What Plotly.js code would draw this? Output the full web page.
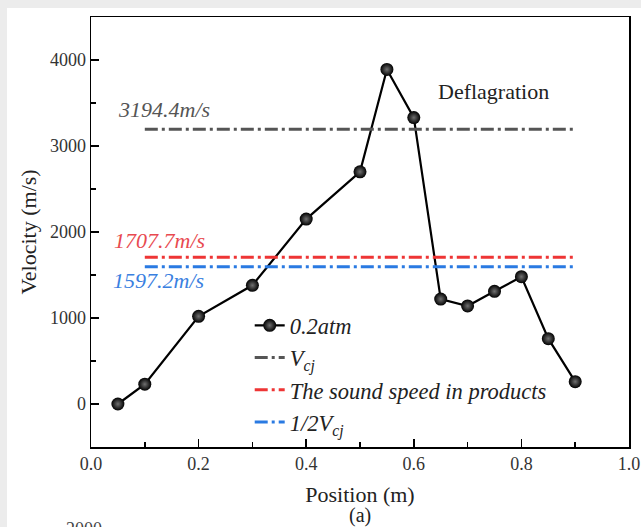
<!DOCTYPE html>
<html>
<head>
<meta charset="utf-8">
<script src="https://cdn.plot.ly/plotly-3.0.1.min.js"></script>
<style>
html,body{margin:0;padding:0;background:#ececec;width:641px;height:527px;overflow:hidden;}
#chart{position:absolute;left:7px;top:8px;width:634px;height:519px;background:#fff;}
</style>
</head>
<body>
<div id="chart"></div>
<script>
// Data
const position = [0.05, 0.1, 0.2, 0.3, 0.4, 0.5, 0.55, 0.6, 0.65, 0.7, 0.75, 0.8, 0.85, 0.9];
const velocity = [0, 230, 1020, 1380, 2150, 2700, 3890, 3330, 1220, 1140, 1310, 1480, 760, 260];
const refLineX = [0.1, 0.9];
const vcj = 3194.4;
const soundSpeed = 1707.7;
const halfVcj = 1597.2;
const seriesNames = ['0.2atm', 'V<sub>cj</sub>', 'The sound speed in products', '1/2V<sub>cj</sub>'];
const refLabels = ['3194.4m/s', '1707.7m/s', '1597.2m/s'];

const serif = 'Liberation Serif, Times New Roman, serif';
const dashDot = '13px,4px,3px,4px';

const traces = [
  {
    x: position, y: velocity, name: seriesNames[0], type: 'scatter', mode: 'lines+markers',
    line: {color: '#000', width: 2.2},
    marker: {size: 13, color: '#000', gradient: {type: 'radial', color: '#707070'}}
  },
  {
    x: refLineX, y: [vcj, vcj], name: seriesNames[1], type: 'scatter', mode: 'lines',
    line: {color: '#555555', width: 3, dash: dashDot}
  },
  {
    x: refLineX, y: [soundSpeed, soundSpeed], name: seriesNames[2], type: 'scatter', mode: 'lines',
    line: {color: '#ee3535', width: 3, dash: dashDot}
  },
  {
    x: refLineX, y: [halfVcj, halfVcj], name: seriesNames[3], type: 'scatter', mode: 'lines',
    line: {color: '#2a7ae2', width: 3, dash: dashDot}
  }
];

const layout = {
  width: 634, height: 519,
  margin: {l: 84, r: 12, t: 9, b: 80},
  paper_bgcolor: '#ffffff', plot_bgcolor: '#ffffff',
  font: {family: serif, color: '#333'},
  showlegend: true,
  legend: {
    x: 0.295, y: 0.332, xanchor: 'left', yanchor: 'top',
    bgcolor: 'rgba(0,0,0,0)',
    font: {family: serif, size: 22.5, color: '#222', style: 'italic'},
    tracegroupgap: 0
  },
  xaxis: {
    range: [0, 1], dtick: 0.2, tick0: 0, tickformat: '.1f',
    ticks: 'inside', ticklen: 8, tickwidth: 1.5, tickcolor: '#000',
    minor: {dtick: 0.1, ticks: 'inside', ticklen: 5, tickwidth: 1.5, tickcolor: '#000'},
    showline: true, linecolor: '#000', linewidth: 1.5, mirror: true,
    showgrid: false, zeroline: false,
    tickfont: {family: serif, size: 18, color: '#333'},
    title: {text: 'Position (m)', font: {family: serif, size: 22, color: '#222'}, standoff: 13}
  },
  yaxis: {
    range: [-500, 4500], dtick: 1000, tick0: 0,
    ticks: 'inside', ticklen: 8, tickwidth: 1.5, tickcolor: '#000',
    minor: {dtick: 500, ticks: 'inside', ticklen: 5, tickwidth: 1.5, tickcolor: '#000'},
    showline: true, linecolor: '#000', linewidth: 1.5, mirror: true,
    showgrid: false, zeroline: false,
    tickfont: {family: serif, size: 18, color: '#333'},
    title: {text: 'Velocity (m/s)', font: {family: serif, size: 22, color: '#222'}, standoff: 7}
  },
  annotations: [
    {x: 0.136, y: 3420, xref: 'x', yref: 'y', text: refLabels[0], showarrow: false,
     font: {family: serif, size: 22, color: '#555555', style: 'italic'}},
    {x: 0.128, y: 1896, xref: 'x', yref: 'y', text: refLabels[1], showarrow: false,
     font: {family: serif, size: 22, color: '#e84a50', style: 'italic'}},
    {x: 0.125, y: 1434, xref: 'x', yref: 'y', text: refLabels[2], showarrow: false,
     font: {family: serif, size: 22, color: '#3a80e0', style: 'italic'}},
    {x: 0.749, y: 3630, xref: 'x', yref: 'y', text: 'Deflagration', showarrow: false,
     font: {family: serif, size: 22, color: '#222'}},
    {x: 0.5, y: -0.16, xref: 'paper', yref: 'paper', text: '(a)', showarrow: false,
     yanchor: 'middle', borderpad: 0, font: {family: serif, size: 20, color: '#222'}},
    {x: -0.05, y: -0.163, xref: 'paper', yref: 'paper', text: '2000', showarrow: false,
     yanchor: 'top', font: {family: serif, size: 18, color: '#444'}}
  ]
};

Plotly.newPlot('chart', traces, layout, {displayModeBar: false, staticPlot: true});
</script>
</body>
</html>
